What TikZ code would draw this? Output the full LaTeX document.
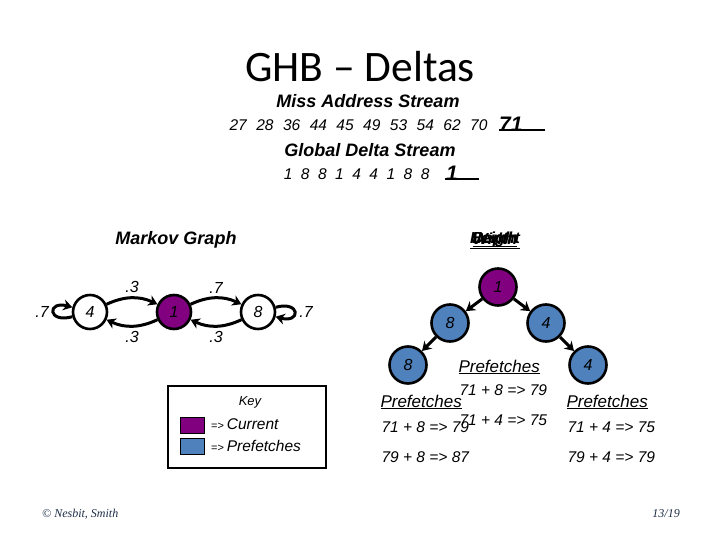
\documentclass[tikz,border=0pt]{standalone}
\usepackage{fontspec}
\setmainfont{Liberation Sans}
\newfontfamily\titlefont{Carlito}
\newfontfamily\footfont{Liberation Serif}
\usetikzlibrary{arrows.meta}

\definecolor{curpurple}{RGB}{128,0,128}
\definecolor{prefblue}{RGB}{79,129,189}
\definecolor{footnavy}{RGB}{30,45,70}

\newcommand{\fs}[1]{\fontsize{#1}{#1}\selectfont}

\tikzset{
  state/.style={circle, draw, line width=2.6pt, minimum size=34pt, inner sep=0pt, font=\itshape\fs{16}},
  current/.style={state, fill=curpurple},
  prefetch/.style={state, fill=prefblue, minimum size=37pt},
  trans/.style={line width=3pt, -{Stealth[length=9pt,width=11pt]}},
  prob/.style={font=\itshape\fs{16}},
  heading/.style={font=\bfseries\itshape\fs{18}},
  seqtext/.style={font=\itshape\fs{15.5}},
  calc/.style={font=\itshape\fs{15.5}, anchor=west},
  pfhead/.style={font=\itshape\fs{17}, anchor=west},
}

\begin{document}
\begin{tikzpicture}[x=1pt, y=-1pt]
	\useasboundingbox (0,0) rectangle (720,540);
	% title and the two streams
	\node[font=\titlefont\fs{43.5}] (title) at (360,67) {GHB – Deltas};
	\node[heading] (misshead) at (368,101) {Miss Address Stream};
	\node[seqtext, anchor=east] (missseq) at (491,125) {27\hskip9.5pt 28\hskip9.5pt 36\hskip9.5pt 44\hskip9.5pt 45\hskip9.5pt 49\hskip9.5pt 53\hskip9.5pt 54\hskip9.5pt 62\hskip9.5pt 70};
	\node[font=\bfseries\itshape\fs{21}, anchor=west, inner sep=0pt] (misscur) at (499,124) {71};
	\node[heading] (deltahead) at (370,150) {Global Delta Stream};
	\node[seqtext, anchor=east] (deltaseq) at (433,174) {1\hskip8.5pt 8\hskip8.5pt 8\hskip8.5pt 1\hskip8.5pt 4\hskip8.5pt 4\hskip8.5pt 1\hskip8.5pt 8\hskip8.5pt 8};
	\node[font=\bfseries\itshape\fs{21}, anchor=west, inner sep=0pt] (deltacur) at (446,173) {1};
	\draw[line width=2pt] (misscur.south west) ++(0,-1) -- ++(46,0);
	\draw[line width=2pt] (deltacur.south west) ++(-1,-1) -- ++(34,0);

	% Markov graph
	\node[heading] (markovhead) at (176,240) {Markov Graph};
	\node[state] (m4) at (90,312) {4};
	\node[current] (m1) at (174,312) {1};
	\node[state] (m8) at (258,312) {8};
	\draw[trans] (m4) to[bend left=25] node[prob, above] {.3} (m1);
	\draw[trans] (m1) to[bend left=25] node[prob, below] {.3} (m4);
	\draw[trans] (m1) to[bend left=25] node[prob, above] {.7} (m8);
	\draw[trans] (m8) to[bend left=25] node[prob, below] {.3} (m1);
	\draw[trans] (m4) to[out=195, in=165, min distance=26pt] node[prob, left] {.7} (m4);
	\draw[trans] (m8) to[out=15, in=-15, min distance=26pt] node[prob, right] {.7} (m8);

	% delta tree
	\node[heading, font=\bfseries\itshape\fs{16}] (lblwidth) at (495,240) {\underline{Width}};
	\node[heading, font=\bfseries\itshape\fs{16}] (lbldepth) at (495,240) {\underline{Depth}};
	\node[heading, font=\bfseries\itshape\fs{16}] (lblheight) at (495,240) {\underline{Height}};
	\node[current, minimum size=37pt] (t1) at (498,287) {1};
	\node[prefetch] (t8) at (450,323) {8};
	\node[prefetch] (t4) at (546,323) {4};
	\node[prefetch] (t88) at (408,365) {8};
	\node[prefetch] (t44) at (588,365) {4};
	\draw[trans] (t1) -- (t8);
	\draw[trans] (t1) -- (t4);
	\draw[trans] (t8) -- (t88);
	\draw[trans] (t4) -- (t44);

	% prefetch lists
	\node[pfhead] (pfmid) at (455,367) {\underline{Prefetches}};
	\node[calc] (pfmida) at (456,390) {71 + 8 => 79};
	\node[calc] (pfmidb) at (456,420) {71 + 4 => 75};
	\node[pfhead] (pfleft) at (377,402) {\underline{Prefetches}};
	\node[calc] (pflefta) at (378,427) {71 + 8 => 79};
	\node[calc] (pfleftb) at (378,457) {79 + 8 => 87};
	\node[pfhead] (pfright) at (563,402) {\underline{Prefetches}};
	\node[calc] (pfrighta) at (564,427) {71 + 4 => 75};
	\node[calc] (pfrightb) at (564,457) {79 + 4 => 79};

	% key
	\draw[line width=1.5pt] (168,386) rectangle (326,468);
	\node[font=\itshape\fs{13}] (keyhead) at (250,402) {Key};
	\draw[fill=curpurple] (180,417) rectangle (204,433);
	\draw[fill=prefblue] (180,438) rectangle (204,454);
	\node[anchor=west, inner sep=0pt] (keycur) at (211,424) {{\fs{11}=>} {\itshape\fs{15.5}Current}};
	\node[anchor=west, inner sep=0pt] (keypf) at (211,446) {{\fs{11}=>} {\itshape\fs{15.5}Prefetches}};

	% footer
	\node[font=\footfont\itshape\fs{12}, text=footnavy, anchor=west, inner sep=0pt] (credit) at (42,514) {© Nesbit, Smith};
	\node[font=\footfont\itshape\fs{12}, text=footnavy, anchor=east, inner sep=0pt] (pagenum) at (680,514) {13/19};
\end{tikzpicture}
\end{document}
